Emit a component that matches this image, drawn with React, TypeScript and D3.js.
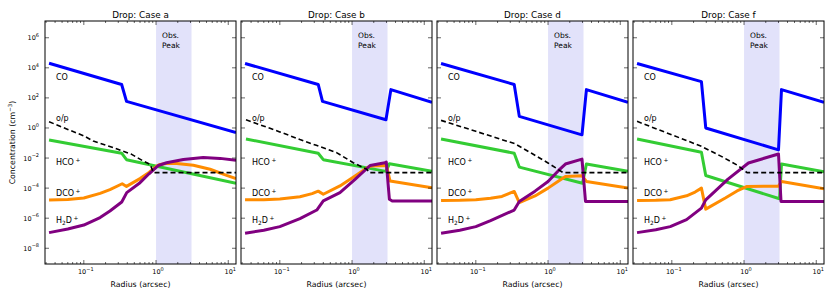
import { scaleLog, line } from 'd3';

type Pt = [number, number];

const width = 831;
const height = 294;
const panelLeft = 45;
const panelStep = 196;
const panelWidth = 191;
const plotTop = 21;
const plotBottom = 264;
const font = 'DejaVu Sans, sans-serif';

const radiusDomain = [0.029, 12.8];
const concDomain = [9e-10, 1.3e7];
const obsPeak = [1.0, 3.1];
const yTicks = [1e-8, 1e-6, 1e-4, 1e-2, 1, 1e2, 1e4, 1e6];
const yTickExp = ['−8', '−6', '−4', '−2', '0', '2', '4', '6'];
const xTicks = [0.1, 1, 10];
const xTickExp = ['−1', '0', '1'];

// case a
const coA: Pt[] = [[0.033, 2.0e4], [0.334, 780], [0.39, 59], [12.8, 0.5]];
const opA: Pt[] = [[0.033, 2.6], [0.06, 0.8], [0.1, 0.3], [0.135, 0.135], [0.257, 0.049], [0.46, 0.0176], [0.667, 6.3e-3], [0.83, 3.8e-3], [0.92, 1.07e-3], [12.8, 1.07e-3]];
const hcoA: Pt[] = [[0.033, 0.16], [0.334, 0.021], [0.39, 7.8e-3], [12.8, 2.1e-4]];
const dcoA: Pt[] = [[0.033, 1.6e-5], [0.06, 1.75e-5], [0.1, 2.2e-5], [0.168, 4.5e-5], [0.23, 8e-5], [0.34, 1.95e-4], [0.39, 1.3e-4], [0.6, 4.3e-4], [0.8, 1.1e-3], [1.02, 2.9e-3], [1.14, 3.8e-3], [1.4, 4.3e-3], [1.94, 4.4e-3], [3.29, 3.3e-3], [5.6, 1.8e-3], [9.5, 7e-4], [12.8, 4.3e-4]];
const h2dA: Pt[] = [[0.033, 1.1e-7], [0.06, 1.9e-7], [0.1, 3.5e-7], [0.168, 1.1e-6], [0.23, 3e-6], [0.335, 1.2e-5], [0.393, 5e-5], [0.6, 2.3e-4], [0.8, 9e-4], [1.08, 3.2e-3], [1.4, 4.9e-3], [2.39, 8.1e-3], [4.5, 1.07e-2], [7.7, 9.5e-3], [12.8, 7e-3]];

// case b
const coB: Pt[] = [[0.033, 1.95e4], [0.34, 780], [0.39, 59], [2.95, 3.5], [3.45, 355], [12.8, 51]];
const opB: Pt[] = [[0.034, 3.5], [0.1, 0.55], [0.19, 0.17], [0.32, 0.07], [0.61, 0.023], [1.04, 4.9e-3], [1.6, 1.8e-3], [1.75, 1.07e-3], [12.8, 1.07e-3]];
const hcoB: Pt[] = [[0.034, 0.186], [0.34, 0.021], [0.4, 7.8e-3], [2.95, 1.3e-3], [3.3, 4.2e-3], [12.8, 1.3e-3]];
const dcoB: Pt[] = [[0.033, 1.66e-5], [0.06, 1.7e-5], [0.1, 1.9e-5], [0.19, 2.7e-5], [0.28, 4.3e-5], [0.34, 6.3e-5], [0.4, 3.9e-5], [0.68, 1.4e-4], [1.1, 6.3e-4], [1.68, 2.5e-3], [1.85, 2.95e-3], [2.9, 3.2e-3], [3.0, 3e-3], [3.36, 2.95e-4], [12.8, 1.07e-4]];
const h2dB: Pt[] = [[0.033, 1e-7], [0.06, 1.6e-7], [0.1, 2.75e-7], [0.19, 9.3e-7], [0.325, 3.5e-6], [0.4, 1.4e-5], [0.68, 5e-5], [1.1, 3.8e-4], [1.78, 3.2e-3], [2.86, 4.9e-3], [2.98, 5.4e-3], [3.29, 1.8e-5], [3.6, 1.4e-5], [12.8, 1.4e-5]];

// case d
const coD: Pt[] = [[0.033, 1.95e4], [0.34, 780], [0.4, 5.9], [2.95, 0.35], [3.4, 355], [12.8, 51]];
const opD: Pt[] = [[0.033, 3.2], [0.1, 0.6], [0.35, 0.089], [0.6, 0.02], [1.0, 4.7e-3], [1.62, 1.07e-3], [12.8, 1.07e-3]];
const hcoD: Pt[] = [[0.033, 0.186], [0.34, 0.021], [0.4, 2.5e-3], [3.0, 2.1e-4], [3.4, 4e-3], [12.8, 1.3e-3]];
const dcoD: Pt[] = [[0.033, 1.5e-5], [0.06, 1.55e-5], [0.1, 1.7e-5], [0.16, 2.1e-5], [0.23, 2.8e-5], [0.34, 6e-5], [0.4, 1.1e-5], [0.66, 3e-5], [1.0, 1e-4], [1.4, 3e-4], [1.74, 6e-4], [2.95, 6.6e-4], [3.4, 2.8e-4], [12.8, 1e-4]];
const h2dD: Pt[] = [[0.033, 1e-7], [0.06, 1.6e-7], [0.1, 2.75e-7], [0.16, 7e-7], [0.34, 3.5e-6], [0.4, 1.3e-5], [0.66, 6.3e-5], [1.0, 2.75e-4], [1.4, 1.5e-3], [1.74, 4e-3], [2.95, 8.5e-3], [3.3, 1.3e-5], [12.8, 1.3e-5]];

// case f
const coF: Pt[] = [[0.033, 1.95e4], [0.257, 1.2e3], [0.295, 1.0], [3.0, 0.035], [3.3, 355], [12.8, 51]];
const opF: Pt[] = [[0.033, 2.75], [0.1, 0.35], [0.257, 0.06], [0.5, 0.012], [0.83, 3.1e-3], [1.1, 1.07e-3], [12.8, 1.07e-3]];
const hcoF: Pt[] = [[0.033, 0.186], [0.257, 0.024], [0.295, 6.9e-4], [3.1, 1.95e-5], [3.3, 4e-3], [12.8, 1.2e-3]];
const dcoF: Pt[] = [[0.033, 1.5e-5], [0.06, 1.55e-5], [0.095, 1.7e-5], [0.16, 3.1e-5], [0.21, 5.5e-5], [0.257, 1e-4], [0.295, 4e-6], [0.55, 2.2e-5], [0.8, 6.5e-5], [1.1, 1.3e-4], [3.0, 1.35e-4], [3.3, 2.75e-4], [12.8, 9e-5]];
const h2dF: Pt[] = [[0.033, 1.1e-7], [0.06, 1.7e-7], [0.095, 2.75e-7], [0.16, 8e-7], [0.257, 4.7e-6], [0.295, 1.66e-5], [0.6, 4e-4], [1.15, 4.7e-3], [3.0, 1.86e-2], [3.25, 1.3e-5], [12.8, 1.3e-5]];

const panels = [
  { title: 'Drop: Case a', co: coA, op: opA, hco: hcoA, dco: dcoA, h2d: h2dA },
  { title: 'Drop: Case b', co: coB, op: opB, hco: hcoB, dco: dcoB, h2d: h2dB },
  { title: 'Drop: Case d', co: coD, op: opD, hco: hcoD, dco: dcoD, h2d: h2dD },
  { title: 'Drop: Case f', co: coF, op: opF, hco: hcoF, dco: dcoF, h2d: h2dF },
];

const minorX: number[] = [];
[0.01, 0.1, 1, 10].forEach(d => {
  for (let k = 2; k <= 9; k++) {
    const v = d * k;
    if (v > radiusDomain[0] && v < radiusDomain[1]) minorX.push(v);
  }
});

function Panel({ index, panel }: { index: number; panel: (typeof panels)[number] }) {
  const left = panelLeft + panelStep * index;
  const right = left + panelWidth;
  const x = scaleLog().domain(radiusDomain).range([left, right]);
  const y = scaleLog().domain(concDomain).range([plotBottom, plotTop]);
  const path = line<Pt>().x(d => x(d[0])).y(d => y(d[1]));
  const clipId = `clip-${index}`;
  const lx = left + 11;

  return (
    <g>
      <defs>
        <clipPath id={clipId}>
          <rect x={left} y={plotTop} width={panelWidth} height={plotBottom - plotTop} />
        </clipPath>
      </defs>
      <rect x={x(obsPeak[0])} y={plotTop} width={x(obsPeak[1]) - x(obsPeak[0])} height={plotBottom - plotTop} fill="#e2e2fa" />
      <g clipPath={`url(#${clipId})`} fill="none" strokeLinejoin="round">
        <path d={path(panel.co) ?? ''} stroke="#0000ff" strokeWidth={3} />
        <path d={path(panel.hco) ?? ''} stroke="#33cc33" strokeWidth={3} />
        <path d={path(panel.dco) ?? ''} stroke="#ff8c00" strokeWidth={3} />
        <path d={path(panel.h2d) ?? ''} stroke="#800080" strokeWidth={3} />
        <path d={path(panel.op) ?? ''} stroke="#000" strokeWidth={1.6} strokeDasharray="5 3" />
      </g>

      <g fontFamily={font} fontSize={8} fill="#000">
        <text x={x(obsPeak[0]) + 6} y={38} fontSize={7.5}>Obs.</text>
        <text x={x(obsPeak[0]) + 6} y={48} fontSize={7.5}>Peak</text>
        <text x={lx} y={80}>CO</text>
        <text x={lx} y={121}>o/p</text>
        <text x={lx} y={164.5}>HCO<tspan dx={1.5} dy={-3} fontSize={5.8}>+</tspan></text>
        <text x={lx} y={196}>DCO<tspan dx={1.5} dy={-3} fontSize={5.8}>+</tspan></text>
        <text x={lx} y={222.5}>H<tspan dy={2} fontSize={5.8}>2</tspan><tspan dy={-2}>D</tspan><tspan dx={1.5} dy={-3} fontSize={5.8}>+</tspan></text>
      </g>

      <rect x={left} y={plotTop} width={panelWidth} height={plotBottom - plotTop} fill="none" stroke="#000" strokeWidth={1} />

      <g stroke="#000" strokeWidth={0.6}>
        {xTicks.map(t => (
          <g key={`xt${t}`}>
            <line x1={x(t)} x2={x(t)} y1={plotBottom} y2={plotBottom - 4} />
            <line x1={x(t)} x2={x(t)} y1={plotTop} y2={plotTop + 4} />
          </g>
        ))}
        {minorX.map(t => (
          <g key={`xm${t}`}>
            <line x1={x(t)} x2={x(t)} y1={plotBottom} y2={plotBottom - 2} />
            <line x1={x(t)} x2={x(t)} y1={plotTop} y2={plotTop + 2} />
          </g>
        ))}
        {yTicks.map(t => (
          <g key={`yt${t}`}>
            <line x1={left} x2={left + 4} y1={y(t)} y2={y(t)} />
            <line x1={right} x2={right - 4} y1={y(t)} y2={y(t)} />
          </g>
        ))}
      </g>

      <g fontFamily={font} fontSize={6.5} fill="#000" textAnchor="middle">
        {xTicks.map((t, i) => (
          <text key={`xl${t}`} x={x(t) + 2} y={274}>
            10<tspan dy={-3.5} fontSize={5}>{xTickExp[i]}</tspan>
          </text>
        ))}
      </g>
      {index === 0 && (
        <g fontFamily={font} fontSize={6.5} fill="#000" textAnchor="end">
          {yTicks.map((t, i) => (
            <text key={`yl${t}`} x={left - 6} y={y(t) + 2.5}>
              10<tspan dy={-3.5} fontSize={5}>{yTickExp[i]}</tspan>
            </text>
          ))}
        </g>
      )}

      <text x={(left + right) / 2} y={17.5} textAnchor="middle" fontFamily={font} fontSize={8.8}>{panel.title}</text>
      <text x={(left + right) / 2} y={287} textAnchor="middle" fontFamily={font} fontSize={7.8}>Radius (arcsec)</text>
    </g>
  );
}

export default function App() {
  return (
    <svg width={width} height={height} viewBox={`0 0 ${width} ${height}`} style={{ position: 'absolute', left: 0, top: 0, background: '#fff' }}>
      <rect width={width} height={height} fill="#fff" />
      {panels.map((p, i) => (
        <Panel key={p.title} index={i} panel={p} />
      ))}
      <text transform={`translate(15, ${(plotTop + plotBottom) / 2}) rotate(-90)`} textAnchor="middle" fontFamily={font} fontSize={7.8}>
        Concentration (cm<tspan dy={-3} fontSize={5.5}>−3</tspan><tspan dy={3}>)</tspan>
      </text>
    </svg>
  );
}
